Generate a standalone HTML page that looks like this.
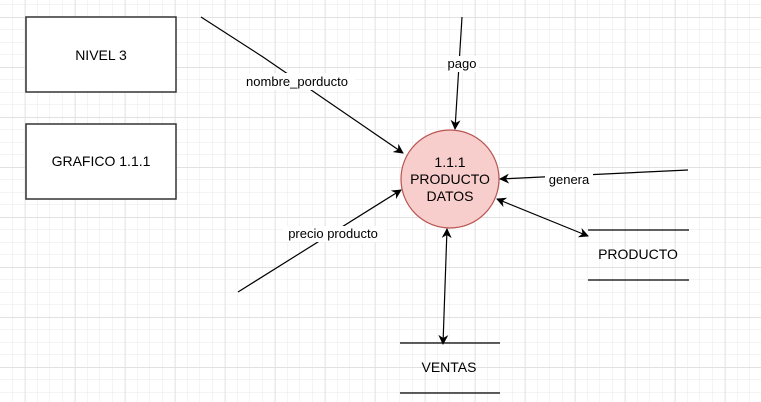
<!DOCTYPE html>
<html><head><style>
html,body{margin:0;padding:0;background:#fff}
svg{display:block}
text{font-family:"Liberation Sans",Arial,sans-serif;fill:#000}
</style></head><body>
<svg width="761" height="402" xmlns="http://www.w3.org/2000/svg">
<defs>
<pattern id="g" width="12.5" height="12.5" patternUnits="userSpaceOnUse" x="0" y="5">
<path d="M12.5 0V12.5M0 12.5H12.5" stroke="#e8e8e8" stroke-width="1" fill="none"/>
</pattern>
<pattern id="G" width="50" height="50" patternUnits="userSpaceOnUse" x="25" y="17.5">
<path d="M0 0V50M0 0H50" stroke="#dadada" stroke-width="1" fill="none"/>
</pattern>
<marker id="a" markerWidth="10" markerHeight="10" refX="9" refY="5" orient="auto" markerUnits="userSpaceOnUse">
<path d="M0,0 L10,5 L0,10 L3,5 z" fill="#000"/>
</marker>
<marker id="s" markerWidth="10" markerHeight="10" refX="1" refY="5" orient="auto" markerUnits="userSpaceOnUse">
<path d="M10,0 L0,5 L10,10 L7,5 z" fill="#000"/>
</marker>
</defs>
<rect width="761" height="402" fill="url(#g)"/>
<rect width="761" height="402" fill="url(#G)"/>

<rect x="26" y="17" width="150" height="75" fill="#fff" stroke="#333" stroke-width="1.5"/>
<text x="101" y="60" font-size="14" text-anchor="middle">NIVEL 3</text>
<rect x="26" y="124" width="150" height="75" fill="#fff" stroke="#333" stroke-width="1.5"/>
<text x="101" y="166" font-size="14" text-anchor="middle">GRAFICO 1.1.1</text>

<circle cx="450" cy="179" r="49" fill="#f8cecc" stroke="#b85450" stroke-width="1.2"/>
<text x="450" y="167" font-size="14" text-anchor="middle">1.1.1</text>
<text x="450" y="184" font-size="14" text-anchor="middle">PRODUCTO</text>
<text x="450" y="201" font-size="14" text-anchor="middle">DATOS</text>

<g stroke="#000" stroke-width="1.2" fill="none">
<polyline points="201,17 263,57 403,153" marker-end="url(#a)"/>
<line x1="462" y1="17" x2="455" y2="129" marker-end="url(#a)"/>
<line x1="688" y1="170" x2="500" y2="179" marker-end="url(#a)"/>
<line x1="238" y1="292" x2="401" y2="190" marker-end="url(#a)"/>
<line x1="497" y1="199" x2="588" y2="236" marker-start="url(#s)" marker-end="url(#a)"/>
<line x1="447" y1="229" x2="443" y2="344" marker-start="url(#s)" marker-end="url(#a)"/>
</g>

<rect x="241" y="73" width="114" height="17" fill="#fff"/>
<text x="297" y="86" font-size="13" text-anchor="middle">nombre_porducto</text>
<rect x="445" y="56" width="34" height="16" fill="#fff"/>
<text x="462" y="68" font-size="13" text-anchor="middle">pago</text>
<rect x="545" y="172" width="48" height="16" fill="#fff"/>
<text x="569" y="184" font-size="13" text-anchor="middle">genera</text>
<rect x="283" y="226" width="102" height="16" fill="#fff"/>
<text x="333" y="238" font-size="13" text-anchor="middle">precio producto</text>

<g stroke="#000" stroke-width="1.2">
<line x1="588" y1="230" x2="689" y2="230"/>
<line x1="588" y1="280" x2="689" y2="280"/>
<line x1="400" y1="343" x2="500" y2="343"/>
<line x1="400" y1="393" x2="500" y2="393"/>
</g>
<text x="638" y="259" font-size="14" text-anchor="middle">PRODUCTO</text>
<text x="449" y="372" font-size="14" text-anchor="middle">VENTAS</text>
</svg>
</body></html>
